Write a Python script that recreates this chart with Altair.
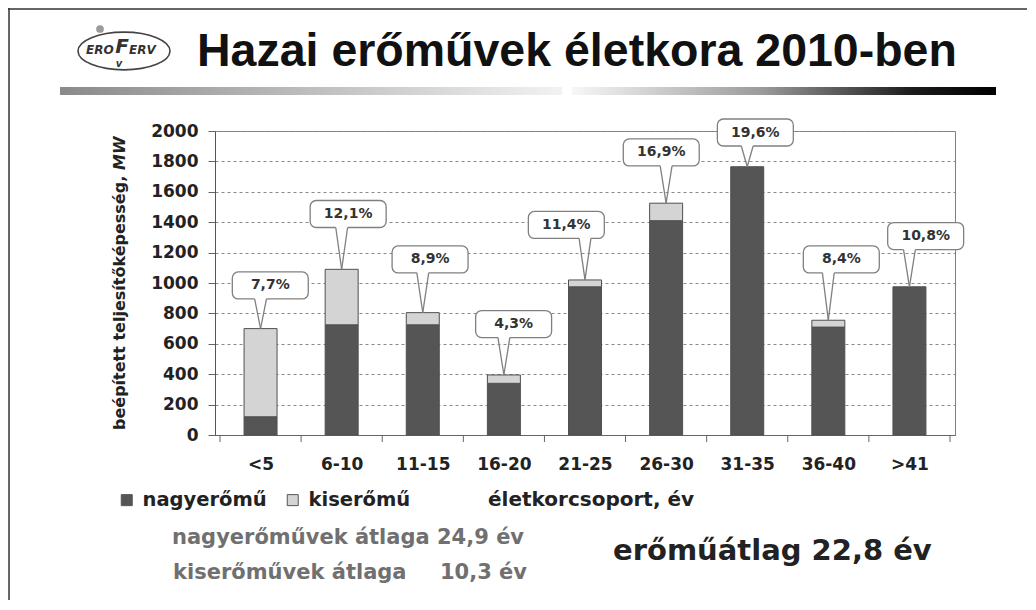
import json
import altair as alt
import pandas as pd

# ---------------- data ----------------
categories = ["<5", "6-10", "11-15", "16-20", "21-25", "26-30", "31-35", "36-40", ">41"]
nagy = [120, 725, 725, 340, 975, 1410, 1765, 710, 975]      # nagyerőmű, MW
kis = [580, 365, 80, 55, 45, 115, 0, 45, 0]                  # kiserőmű, MW
shares = ["7,7%", "12,1%", "8,9%", "4,3%", "11,4%", "16,9%", "19,6%", "8,4%", "10,8%"]
series = ["nagyerőmű", "kiserőmű"]
# callout placement: offset from bar (category units) and height (MW)
callout_dx = [0.12, 0.08, 0.09, 0.12, -0.23, -0.06, 0.10, 0.16, 0.20]
callout_y = [984, 1454, 1155, 730, 1382, 1859, 1990, 1155, 1309]

W, H = 740, 304
YMAX = 2000
XPX = W / len(categories)         # px per category unit
YPX = H / YMAX                    # px per MW
BOX_W, BOX_H, WEDGE = 77, 27, 6   # px

rows = []
for i, c in enumerate(categories):
    rows.append({"idx": i, "cat": c, "series": series[0], "value": nagy[i], "ord": 0})
    rows.append({"idx": i, "cat": c, "series": series[1], "value": kis[i], "ord": 1})
df = pd.DataFrame(rows)
df = df[df["value"] > 0]

co = pd.DataFrame({
    "idx": list(range(len(categories))),
    "total": [a + b for a, b in zip(nagy, kis)],
    "share": shares,
    "dx": callout_dx,
    "ly": callout_y,
})
co["lx"] = co["idx"] + co["dx"]
co["bx1"] = co["lx"] - BOX_W / 2 / XPX
co["bx2"] = co["lx"] + BOX_W / 2 / XPX
co["by1"] = co["ly"] - BOX_H / 2 / YPX
co["by2"] = co["ly"] + BOX_H / 2 / YPX
co["w1"] = co["idx"] - WEDGE / XPX
co["w2"] = co["idx"] + WEDGE / XPX

bounds = pd.DataFrame({"b": [i - 0.5 for i in range(len(categories) + 1)]})
one = pd.DataFrame({"a": [0]})

FONT = "DejaVu Sans"
xscale = alt.Scale(domain=[-0.5, len(categories) - 0.5], nice=False, zero=False)
yscale = alt.Scale(domain=[0, YMAX], nice=False)

xaxis = alt.Axis(
    values=list(range(len(categories))),
    labelExpr=json.dumps(categories) + "[datum.value]",
    ticks=False, tickSize=0, grid=False, title=None,
    labelFont=FONT, labelFontWeight="bold", labelFontSize=17, labelColor="#222",
    labelPadding=29, labelBaseline="middle", labelFlush=False, labelOverlap=False,
    domainColor="#666",
)
yaxis = alt.Axis(
    values=list(range(0, YMAX + 1, 200)), title=None, format="d",
    grid=True, gridDash=[3, 3], gridColor="#8a8a8a", gridWidth=1,
    tickSize=7, tickColor="#666", domainColor="#555",
    labelFont=FONT, labelFontWeight="bold", labelFontSize=17, labelColor="#222",
    labelPadding=10, labelOverlap=False, labelFlush=False,
)


def X(field):
    return alt.X(field, scale=xscale, axis=xaxis, title=None)


def Y(field, **kw):
    return alt.Y(field, scale=yscale, axis=yaxis, title=None, **kw)


bars = alt.Chart(df).mark_bar(size=33, stroke="#505050", strokeWidth=1).encode(
    x=X("idx:Q"),
    y=Y("value:Q", stack="zero"),
    color=alt.Color(
        "series:N",
        scale=alt.Scale(domain=series, range=["#555555", "#d4d4d4"]),
        legend=alt.Legend(
            title=None, orient="none", legendX=-98, legendY=359, direction="horizontal",
            symbolType="square", symbolSize=121, symbolStrokeColor="#555", symbolStrokeWidth=1,
            labelFont=FONT, labelFontWeight="bold", labelFontSize=19.5, labelColor="#222",
            labelOffset=6, columnPadding=16, padding=0,
        ),
    ),
    order=alt.Order("ord:Q"),
)

xticks = alt.Chart(bounds).mark_rule(color="#666", strokeWidth=1).encode(
    x=X("b:Q"), y=alt.value(H), y2=alt.value(H + 7)
)

boxes = alt.Chart(co).mark_rect(fill="white", stroke="#808080", strokeWidth=1.3, cornerRadius=6).encode(
    x=X("bx1:Q"), x2="bx2:Q", y=Y("by1:Q"), y2="by2:Q",
)
cover = alt.Chart(co).mark_rule(color="white", strokeWidth=2.6).encode(
    x=X("w1:Q"), x2="w2:Q", y=Y("by1:Q"), y2="by1:Q",
)
wedge_l = alt.Chart(co).mark_rule(color="#808080", strokeWidth=1.3).encode(
    x=X("w1:Q"), x2="idx:Q", y=Y("by1:Q"), y2="total:Q",
)
wedge_r = alt.Chart(co).mark_rule(color="#808080", strokeWidth=1.3).encode(
    x=X("w2:Q"), x2="idx:Q", y=Y("by1:Q"), y2="total:Q",
)
labels = alt.Chart(co).mark_text(font=FONT, fontWeight="bold", fontSize=14, color="#333").encode(
    x=X("lx:Q"), y=Y("ly:Q"), text="share:N"
)


def txt(text, x, y, **kw):
    return alt.Chart(one).mark_text(text=text, **kw).encode(x=alt.value(x), y=alt.value(y))


# y axis title (MW in italic)
ytitle_main = txt("beépített teljesítőképesség,", -95, 299, angle=270, align="left", baseline="middle",
                  font=FONT, fontWeight="bold", fontSize=16, color="#222")
ytitle_mw = txt("MW", -95, 39, angle=270, align="left", baseline="middle",
                font=FONT, fontWeight="bold", fontStyle="italic", fontSize=16, color="#222")

xtitle = txt("életkorcsoport, év", 273, 369, align="left", baseline="middle",
             font=FONT, fontWeight="bold", fontSize=20, color="#222")

# header
title = txt("Hazai erőművek életkora 2010-ben", -18, -65, align="left", baseline="alphabetic",
            font="Liberation Sans", fontWeight="bold", fontSize=46.5, color="#111")

grad_left = alt.Chart(one).mark_rect(
    color=alt.LinearGradient(gradient="linear", x1=0, x2=1, y1=0, y2=0,
                             stops=[alt.GradientStop(offset=0, color="#8a8a8a"),
                                    alt.GradientStop(offset=1, color="#f2f2f2")])
).encode(x=alt.value(-155), x2=alt.value(347), y=alt.value(-44), y2=alt.value(-36))
grad_right = alt.Chart(one).mark_rect(
    color=alt.LinearGradient(gradient="linear", x1=0, x2=1, y1=0, y2=0,
                             stops=[alt.GradientStop(offset=0, color="#f7f7f7"),
                                    alt.GradientStop(offset=0.45, color="#9a9a9a"),
                                    alt.GradientStop(offset=0.8, color="#1c1c1c"),
                                    alt.GradientStop(offset=1, color="#000000")])
).encode(x=alt.value(357), x2=alt.value(781), y=alt.value(-44), y2=alt.value(-36))

# logo
ellipse = "M -1 0 A 1 0.41 0 1 0 1 0 A 1 0.41 0 1 0 -1 0 Z"
logo_oval = alt.Chart(one).mark_point(shape=ellipse, size=92 * 92, filled=False, stroke="#444",
                                      strokeWidth=1.6, opacity=1).encode(x=alt.value(-91), y=alt.value(-80))
logo_dot = alt.Chart(one).mark_point(shape="circle", size=60, filled=True, color="#9a9a9a",
                                     opacity=1).encode(x=alt.value(-115), y=alt.value(-102))
logo_a = txt("ERO", -129, -81, align="left", baseline="middle", font=FONT, fontWeight="bold",
             fontStyle="italic", fontSize=12, color="#333")
logo_f = txt("F", -93, -84, align="center", baseline="middle", font=FONT, fontWeight="bold",
             fontStyle="italic", fontSize=20, color="#333")
logo_b = txt("ERV", -86, -81, align="left", baseline="middle", font=FONT, fontWeight="bold",
             fontStyle="italic", fontSize=12, color="#333")
logo_v = txt("v", -96, -67, align="center", baseline="middle", font=FONT, fontWeight="bold",
             fontStyle="italic", fontSize=10, color="#333")

# frame
frame_top = alt.Chart(one).mark_rule(color="#333", strokeWidth=1.5).encode(
    x=alt.value(-207), x2=alt.value(W + 72), y=alt.value(-122), y2=alt.value(-122))
frame_left = alt.Chart(one).mark_rule(color="#333", strokeWidth=1.5).encode(
    x=alt.value(-206), x2=alt.value(-206), y=alt.value(-123), y2=alt.value(H + 165))

# bottom texts
GRAY = "#707070"
avg1 = txt("nagyerőművek átlaga 24,9 év", -43, 407, align="left", baseline="middle",
           font=FONT, fontWeight="bold", fontSize=21, color=GRAY)
avg2a = txt("kiserőművek átlaga", -42, 442, align="left", baseline="middle",
            font=FONT, fontWeight="bold", fontSize=21, color=GRAY)
avg2b = txt("10,3 év", 312, 442, align="right", baseline="middle",
            font=FONT, fontWeight="bold", fontSize=21, color=GRAY)
avg_all = txt("erőműátlag 22,8 év", 398, 429, align="left", baseline="alphabetic",
              font=FONT, fontWeight="bold", fontSize=29, color="#222")

chart = alt.layer(
    bars, xticks, boxes, cover, wedge_l, wedge_r, labels,
    ytitle_main, ytitle_mw, xtitle, title, grad_left, grad_right,
    logo_oval, logo_dot, logo_a, logo_f, logo_b, logo_v,
    frame_top, frame_left, avg1, avg2a, avg2b, avg_all,
).properties(
    width=W, height=H,
    padding={"left": 207, "top": 123, "right": 72, "bottom": 165},
    autosize=alt.AutoSizeParams(type="none"),
    background="white",
).configure_view(stroke="#808080", strokeWidth=1)

chart.save("out.html", embed_options={"renderer": "svg", "actions": False})
